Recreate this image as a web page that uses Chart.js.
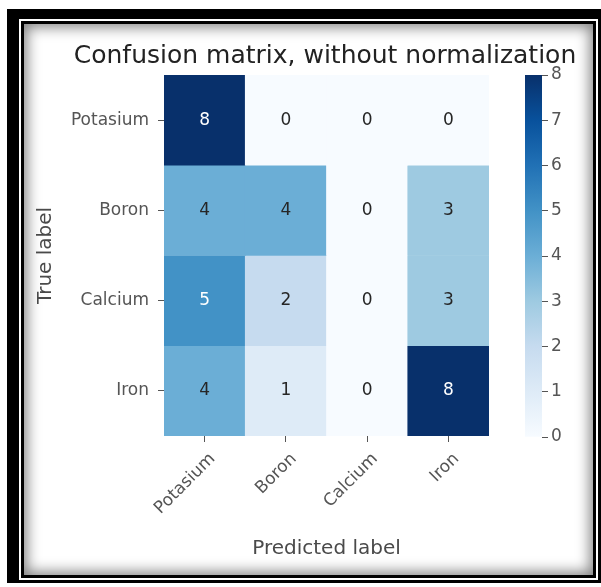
<!DOCTYPE html>
<html>
<head>
<meta charset="utf-8">
<title>Confusion matrix, without normalization</title>
<script src="https://cdn.jsdelivr.net/npm/chart.js@4.4.1/dist/chart.umd.min.js"></script>
<style>
  html, body { margin: 0; padding: 0; background: #fff; width: 601px; height: 587px; overflow: hidden; position: relative; }
  .frame { position: absolute; box-sizing: border-box; }
  #frame-outer { left: 7px; top: 9px; width: 594px; height: 574px; background: #000; }
  #frame-gap { left: 19px; top: 19px; width: 579px; height: 561px; background: #fff; }
  #frame-inner { left: 21px; top: 21px; width: 575px; height: 557px; background: #fff;
                 border: 3px solid #000; box-shadow: inset 0 0 14px 3px rgba(0,0,0,0.5); }
  canvas { position: absolute; top: 0; }
  #matrix { left: 0; }
  #colorbar { left: 490px; }
</style>
</head>
<body>
<div class="frame" id="frame-outer"></div>
<div class="frame" id="frame-gap"></div>
<div class="frame" id="frame-inner"></div>
<canvas id="matrix" width="650" height="587"></canvas>
<canvas id="colorbar" width="111" height="587"></canvas>
<script>
// ---- data ----
const trueLabels = ['Potasium', 'Boron', 'Calcium', 'Iron'];
const predictedLabels = ['Potasium', 'Boron', 'Calcium', 'Iron'];
const countsPotasium = [8, 0, 0, 0];
const countsBoron = [4, 4, 0, 3];
const countsCalcium = [5, 2, 0, 3];
const countsIron = [4, 1, 0, 8];
const colorbarTicks = [0, 1, 2, 3, 4, 5, 6, 7, 8];
const colorMin = 0;
const colorMax = 8;

const matrixRows = [countsPotasium, countsBoron, countsCalcium, countsIron];

// ---- "Blues" colormap ----
const bluesStops = ['#f7fbff', '#deebf7', '#c6dbef', '#9ecae1', '#6baed6',
                    '#4292c6', '#2171b5', '#08519c', '#08306b'];

function hexToRgb(h) {
  const n = parseInt(h.slice(1), 16);
  return [(n >> 16) & 255, (n >> 8) & 255, n & 255];
}
function blues(t) {
  t = Math.max(0, Math.min(1, t));
  const pos = t * (bluesStops.length - 1);
  const i = Math.min(Math.floor(pos), bluesStops.length - 2);
  const f = pos - i;
  const a = hexToRgb(bluesStops[i]), b = hexToRgb(bluesStops[i + 1]);
  const c = a.map((v, k) => Math.round(v + (b[k] - v) * f));
  return `rgb(${c[0]},${c[1]},${c[2]})`;
}
const norm = v => (v - colorMin) / (colorMax - colorMin);

const FONT = '"DejaVu Sans", "Liberation Sans", sans-serif';
const tickColor = '#555';
const textThreshold = (colorMin + colorMax) / 2;
const nRows = trueLabels.length;

// Each true-label row is one dataset of floating bars spanning its band.
const datasets = matrixRows.map((row, i) => ({
  label: trueLabels[i],
  counts: row,
  data: row.map(() => [nRows - 1 - i, nRows - i]),
  backgroundColor: row.map(v => blues(norm(v))),
  borderWidth: 0,
  grouped: false,
  barPercentage: 1,
  categoryPercentage: 1
}));

// Writes the count in the middle of every cell.
const cellText = {
  id: 'cellText',
  afterDatasetsDraw(chart) {
    const ctx = chart.ctx;
    ctx.save();
    ctx.font = `17px ${FONT}`;
    ctx.textAlign = 'center';
    ctx.textBaseline = 'middle';
    chart.data.datasets.forEach((ds, di) => {
      chart.getDatasetMeta(di).data.forEach((bar, ci) => {
        const v = ds.counts[ci];
        const p = bar.getCenterPoint();
        ctx.fillStyle = v > textThreshold ? '#ffffff' : '#262626';
        ctx.fillText(String(v), p.x, p.y);
      });
    });
    ctx.restore();
  }
};

// The matrix canvas reaches past the page on the right; an empty right-hand
// axis balances the y axis so the full-width title sits centred over the cells.
new Chart(document.getElementById('matrix'), {
  type: 'bar',
  data: { labels: predictedLabels, datasets },
  plugins: [cellText],
  options: {
    responsive: false,
    animation: false,
    devicePixelRatio: 1,
    layout: { padding: { left: 0, top: 30, right: 0, bottom: 0 } },
    plugins: {
      legend: { display: false },
      tooltip: { enabled: false },
      title: {
        display: true,
        text: 'Confusion matrix, without normalization',
        color: '#222',
        font: { family: FONT, size: 25, weight: 'normal', lineHeight: 1.2 },
        padding: { top: 11, bottom: 4 }
      }
    },
    scales: {
      x: {
        type: 'category',
        offset: true,
        grid: { offset: false, drawOnChartArea: false, tickLength: 6, color: tickColor },
        border: { display: false },
        ticks: {
          color: tickColor,
          font: { family: FONT, size: 17 },
          minRotation: 45,
          maxRotation: 45,
          padding: 7,
          labelOffset: 8
        },
        title: {
          display: true,
          text: 'Predicted label',
          color: '#4a4a4a',
          font: { family: FONT, size: 20, lineHeight: 1.2 },
          padding: { top: 0, bottom: 26 }
        },
        afterFit(scale) { scale.height = 151; }
      },
      y: {
        type: 'linear',
        min: 0,
        max: nRows,
        afterBuildTicks(scale) {
          scale.ticks = trueLabels.map((_, i) => ({ value: nRows - 1 - i + 0.5 }));
        },
        grid: { drawOnChartArea: false, tickLength: 6, color: tickColor },
        border: { display: false },
        ticks: {
          color: tickColor,
          font: { family: FONT, size: 17 },
          padding: 9,
          callback(value) { return trueLabels[nRows - 1 - Math.floor(value)]; }
        },
        title: {
          display: true,
          text: 'True label',
          color: '#4a4a4a',
          font: { family: FONT, size: 20, lineHeight: 1.2 },
          padding: { top: 34, bottom: 0 }
        },
        afterFit(scale) { scale.width = 164; }
      },
      spacer: {
        type: 'linear',
        position: 'right',
        display: true,
        grid: { display: false },
        ticks: { display: false },
        border: { display: false },
        afterFit(scale) { scale.width = 161; }
      }
    }
  }
});

// ---- colour bar ----
function colorbarFill(context) {
  const area = context.chart.chartArea;
  if (!area) return bluesStops[0];
  const yScale = context.chart.scales.y;
  const g = context.chart.ctx.createLinearGradient(0, yScale.getPixelForValue(colorMin), 0, yScale.getPixelForValue(colorMax));
  bluesStops.forEach((c, i) => g.addColorStop(i / (bluesStops.length - 1), c));
  return g;
}

new Chart(document.getElementById('colorbar'), {
  type: 'bar',
  data: {
    labels: [''],
    datasets: [{
      data: [[colorMin, colorMax]],
      backgroundColor: colorbarFill,
      borderWidth: 0,
      barPercentage: 1,
      categoryPercentage: 1
    }]
  },
  options: {
    responsive: false,
    animation: false,
    devicePixelRatio: 1,
    layout: { padding: { left: 35, top: 75, right: 0, bottom: 150 } },
    plugins: { legend: { display: false }, tooltip: { enabled: false } },
    scales: {
      x: { display: false },
      y: {
        type: 'linear',
        position: 'right',
        min: colorMin,
        max: colorMax,
        afterBuildTicks(scale) { scale.ticks = colorbarTicks.map(v => ({ value: v })); },
        grid: { drawOnChartArea: false, tickLength: 6, color: tickColor },
        border: { display: false },
        ticks: { color: tickColor, font: { family: FONT, size: 17 }, padding: 3 },
        afterFit(scale) { scale.width = 59; }
      }
    }
  }
});
</script>
</body>
</html>
